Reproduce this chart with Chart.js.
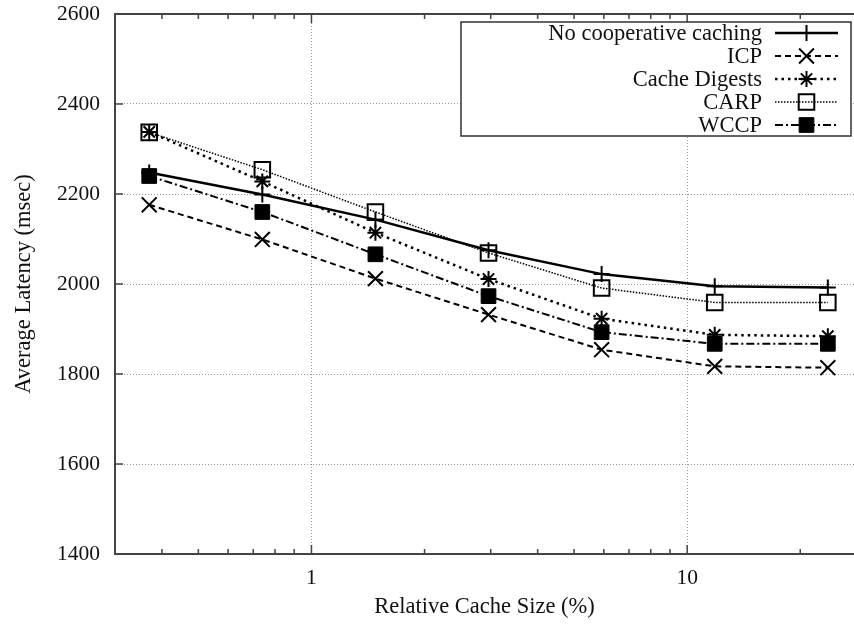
<!DOCTYPE html>
<html>
<head>
<meta charset="utf-8">
<title>Average Latency vs Relative Cache Size</title>
<script src="https://cdn.jsdelivr.net/npm/chart.js@4.4.1/dist/chart.umd.min.js"></script>
<style>
  html, body { margin: 0; padding: 0; background: #fff; overflow: hidden; }
  #chart { display: block; }
</style>
</head>
<body>
<canvas id="chart" width="854" height="624"></canvas>
<script>
// values
const cacheSizes = [0.37, 0.74, 1.48, 2.96, 5.92, 11.84, 23.68];
const noCooperative = [2248, 2199, 2143, 2075, 2022, 1995, 1992];
const icp = [2176, 2099, 2012, 1932, 1854, 1817, 1814];
const cacheDigests = [2338, 2228, 2114, 2011, 1923, 1887, 1884];
const carp = [2337, 2254, 2160, 2069, 1991, 1959, 1959];
const wccp = [2240, 2160, 2066, 1973, 1893, 1867, 1867];

const seriesNames = ['No cooperative caching', 'ICP', 'Cache Digests', 'CARP', 'WCCP'];
const xLabelTicks = [1, 10];

const FONT = '"Liberation Serif", "DejaVu Serif", "Times New Roman", serif';
const AXIS_COLOR = '#444';

function toPoints(values) {
  return values.map((v, i) => ({ x: cacheSizes[i], y: v }));
}

function isLabelTick(v) {
  return xLabelTicks.some(t => Math.abs(v - t) < 1e-6);
}

// gnuplot-like frame with inward tick marks, plus the boxed key
const framePlugin = {
  id: 'frame',
  afterDatasetsDraw(chart) {
    const ctx = chart.ctx;
    const area = chart.chartArea;
    const xs = chart.scales.x;
    const ys = chart.scales.y;

    ctx.save();
    ctx.strokeStyle = AXIS_COLOR;
    ctx.lineWidth = 1.5;
    ctx.setLineDash([]);

    // x tick marks, bottom and top
    xs.ticks.forEach(t => {
      const v = t.value;
      if (v <= xs.min + 1e-9 || v >= xs.max - 1e-9) return;
      const mant = v / Math.pow(10, Math.floor(Math.log10(v) + 1e-9));
      if (Math.abs(mant - Math.round(mant)) > 1e-6) return;
      const px = xs.getPixelForValue(v);
      const len = isLabelTick(v) ? 9 : 5;
      ctx.beginPath();
      ctx.moveTo(px, area.bottom);
      ctx.lineTo(px, area.bottom - len);
      ctx.moveTo(px, area.top);
      ctx.lineTo(px, area.top + len);
      ctx.stroke();
    });

    // y tick marks
    ys.ticks.forEach(t => {
      const py = ys.getPixelForValue(t.value);
      ctx.beginPath();
      ctx.moveTo(area.left, py);
      ctx.lineTo(area.left + 8, py);
      ctx.stroke();
    });

    // border (right side is off the picture)
    ctx.lineWidth = 2;
    ctx.beginPath();
    ctx.moveTo(area.right + 2, area.top);
    ctx.lineTo(area.left, area.top);
    ctx.lineTo(area.left, area.bottom);
    ctx.lineTo(area.right + 2, area.bottom);
    ctx.stroke();

    // key box
    const boxL = 461, boxT = 22, boxR = 851, boxB = 136;
    ctx.fillStyle = '#fff';
    ctx.fillRect(boxL, boxT, boxR - boxL, boxB - boxT);
    ctx.strokeStyle = '#333';
    ctx.lineWidth = 1.5;
    ctx.strokeRect(boxL, boxT, boxR - boxL, boxB - boxT);

    ctx.font = '22.5px ' + FONT;
    ctx.textAlign = 'right';
    ctx.textBaseline = 'middle';
    chart.data.datasets.forEach((ds, i) => {
      const y = 33 + i * 23;
      ctx.fillStyle = '#111';
      ctx.fillText(ds.label, 762, y + 1);

      ctx.strokeStyle = '#000';
      ctx.lineWidth = ds.borderWidth;
      ctx.setLineDash(ds.borderDash || []);
      ctx.beginPath();
      ctx.moveTo(775, y);
      ctx.lineTo(838, y);
      ctx.stroke();
      ctx.setLineDash([]);

      ctx.fillStyle = ds.pointBackgroundColor;
      ctx.strokeStyle = '#000';
      ctx.lineWidth = ds.pointBorderWidth;
      Chart.helpers.drawPoint(ctx, {
        pointStyle: ds.pointStyle,
        radius: ds.pointRadius,
        rotation: 0,
        borderWidth: ds.pointBorderWidth
      }, 806.5, y);
    });
    ctx.restore();
  }
};

function makeSeries(label, values, opts) {
  return Object.assign({
    label: label,
    data: toPoints(values),
    borderColor: '#000',
    pointBorderColor: '#000',
    pointBackgroundColor: 'rgba(0,0,0,0)',
    pointBorderWidth: 2,
    borderWidth: 2,
    tension: 0,
    fill: false
  }, opts);
}

const datasets = [
  makeSeries(seriesNames[0], noCooperative, {
    borderWidth: 2.5, borderDash: [], pointStyle: 'cross', pointRadius: 8
  }),
  makeSeries(seriesNames[1], icp, {
    borderDash: [6, 4], pointStyle: 'crossRot', pointRadius: 10.5
  }),
  makeSeries(seriesNames[2], cacheDigests, {
    borderWidth: 2.5, borderDash: [2.5, 4], pointStyle: 'star', pointRadius: 8
  }),
  makeSeries(seriesNames[3], carp, {
    borderWidth: 1.5, borderDash: [1.5, 1.5], pointStyle: 'rect', pointRadius: 11
  }),
  makeSeries(seriesNames[4], wccp, {
    borderDash: [8, 3, 2, 3], pointStyle: 'rect', pointRadius: 10.4,
    pointBackgroundColor: '#000', pointBorderWidth: 1
  })
];

new Chart(document.getElementById('chart'), {
  type: 'line',
  data: { datasets: datasets },
  options: {
    responsive: false,
    animation: false,
    events: [],
    layout: { autoPadding: false, padding: { top: 14, right: 0, bottom: 0, left: 0 } },
    plugins: {
      legend: { display: false },
      tooltip: { enabled: false }
    },
    scales: {
      x: {
        type: 'logarithmic',
        min: 0.3,
        max: 27.8,
        afterFit(scale) {
          scale.height = 70;
          scale.paddingLeft = 0;
          scale.paddingRight = 0;
        },
        border: { display: false, dash: [1, 2] },
        grid: {
          drawTicks: false,
          color: '#999',
          lineWidth: c => (c.tick && isLabelTick(c.tick.value)) ? 1 : 0
        },
        ticks: {
          autoSkip: false,
          maxRotation: 0,
          padding: 11,
          color: '#111',
          font: { family: FONT, size: 21.5 },
          callback: v => isLabelTick(v) ? String(Math.round(v)) : ''
        },
        title: {
          display: true,
          text: 'Relative Cache Size (%)',
          color: '#111',
          font: { family: FONT, size: 22.5 },
          padding: { top: 4, bottom: 3 }
        }
      },
      y: {
        min: 1400,
        max: 2600,
        afterFit(scale) {
          scale.width = 115;
          scale.paddingTop = 0;
          scale.paddingBottom = 0;
        },
        border: { display: false, dash: [1, 2] },
        grid: { drawTicks: false, color: '#999', lineWidth: 1 },
        ticks: {
          stepSize: 200,
          padding: 15,
          color: '#111',
          font: { family: FONT, size: 21.5 },
          callback: v => String(v)
        },
        title: {
          display: true,
          text: 'Average Latency (msec)',
          color: '#111',
          font: { family: FONT, size: 22.5 },
          padding: { top: 11, bottom: 4 }
        }
      }
    }
  },
  plugins: [framePlugin]
});
</script>
</body>
</html>
